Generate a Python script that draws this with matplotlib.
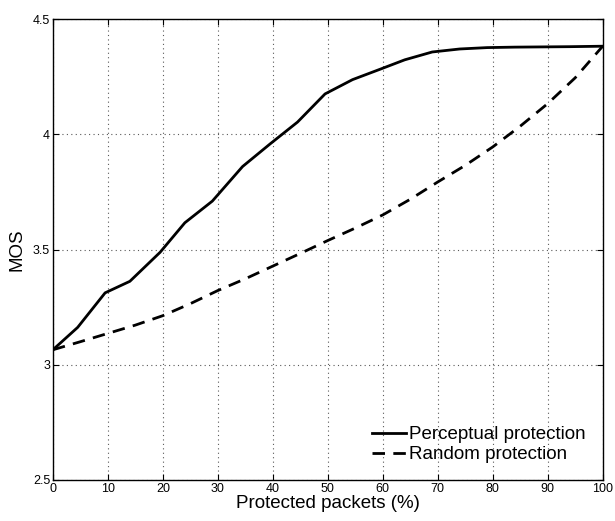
import matplotlib
matplotlib.use('Agg')
import matplotlib.pyplot as plt

plt.rcParams['font.family'] = ['Liberation Sans', 'DejaVu Sans']

# perceptual protection (solid)
x_perc = [0, 4.5, 9.5, 14, 19.5, 24, 29, 34.5, 39.5, 44.5, 49.5, 54.5, 59.5, 64, 69, 74, 79, 84, 89, 94, 100]
mos_perc = [3.065, 3.162, 3.312, 3.362, 3.488, 3.616, 3.71, 3.86, 3.958, 4.053, 4.175, 4.237, 4.282,
            4.323, 4.357, 4.37, 4.376, 4.378, 4.379, 4.38, 4.382]

# random protection (dashed)
x_rand = [0, 5, 10, 15, 20, 25, 30, 35, 40, 45, 50, 55, 60, 65, 70, 75, 80, 85, 90, 95, 100]
mos_rand = [3.065, 3.10, 3.136, 3.172, 3.213, 3.265, 3.322, 3.373, 3.428, 3.483, 3.539, 3.593, 3.65,
            3.718, 3.793, 3.865, 3.945, 4.035, 4.133, 4.245, 4.382]

x_ticks = list(range(0, 101, 10))
y_ticks = [2.5, 3, 3.5, 4, 4.5]

fig = plt.figure(figsize=(6.15, 5.21), dpi=100)
ax = fig.add_axes([0.086, 0.0787, 0.894, 0.8848])

ax.plot(x_perc, mos_perc, 'k-', linewidth=2, label='Perceptual protection')
ax.plot(x_rand, mos_rand, 'k--', linewidth=2, dashes=(4.5, 3), label='Random protection')

ax.set_xlim(0, 100)
ax.set_ylim(2.5, 4.5)
ax.set_xticks(x_ticks)
ax.set_yticks(y_ticks)
ax.set_yticklabels(['2.5', '3', '3.5', '4', '4.5'])
ax.tick_params(direction='in', top=True, right=True, labelsize=9, length=4, pad=2)
ax.grid(True, linestyle=(0, (1, 3)), color='0.35', linewidth=0.8)
for s in ax.spines.values():
    s.set_linewidth(1)

ax.set_xlabel('Protected packets (%)', fontsize=13.5, labelpad=0)
ax.set_ylabel('MOS', fontsize=13.5, labelpad=5)
ax.legend(loc='lower right', frameon=False, fontsize=13.5, handlelength=1.85,
          handletextpad=0.15, labelspacing=0.15, borderaxespad=0.5)

fig.savefig('out.png', dpi=100)
